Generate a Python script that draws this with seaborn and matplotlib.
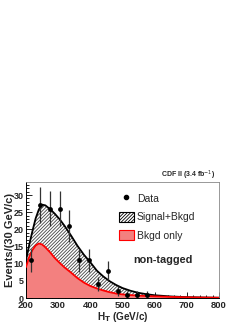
import numpy as np
import pandas as pd
import matplotlib
matplotlib.use("Agg")
import matplotlib.pyplot as plt
import seaborn as sns
from matplotlib.lines import Line2D
from matplotlib.patches import Patch
from matplotlib.ticker import MultipleLocator

# ---------------- data ----------------
data_ht = [215, 245, 275, 305, 335, 365, 395, 425, 455, 485, 515, 545, 575]
data_events = [11, 27, 26, 26, 21, 11, 11, 4, 8, 2, 1, 1, 1]
data_err = [3.3, 5.2, 5.1, 5.1, 4.6, 3.3, 3.3, 2.0, 2.8, 1.4, 1.0, 1.0, 1.0]

curve_ht = [200, 210, 220, 230, 240, 250, 260, 275, 290, 305, 320, 340, 360, 380,
            400, 420, 440, 460, 480, 500, 525, 550, 575, 600, 650, 700, 750, 800]
sig_bkgd = [11.0, 15.5, 19.5, 23.2, 25.8, 27.2, 27.0, 25.9, 24.5, 22.9, 21.0, 18.2,
            15.2, 12.6, 10.4, 8.0, 6.3, 4.9, 3.8, 2.9, 2.1, 1.5, 1.1, 0.8, 0.45,
            0.25, 0.15, 0.08]
bkgd_only = [9.0, 12.0, 14.0, 15.3, 15.9, 15.6, 14.8, 13.3, 11.6, 10.2, 8.9, 7.4,
             5.8, 4.5, 3.5, 2.8, 2.2, 1.7, 1.3, 1.05, 0.85, 0.7, 0.58, 0.48, 0.32,
             0.2, 0.13, 0.08]

x_ticks = [200, 300, 400, 500, 600, 700, 800]
y_ticks = [0, 5, 10, 15, 20, 25, 30]
legend_labels = ["Data", "Signal+Bkgd", "Bkgd only"]

# ---------------- style ----------------
sns.set_style("ticks")
plt.rcParams["font.family"] = ["Liberation Sans", "DejaVu Sans"]
plt.rcParams["hatch.linewidth"] = 0.6
plt.rcParams["hatch.color"] = "#444444"

fig = plt.figure(figsize=(2.49, 3.23), dpi=100)
ax = fig.add_axes([26 / 249, 1 - 298 / 323, 193 / 249, 116 / 323])

curves = pd.DataFrame({"ht": curve_ht, "sb": sig_bkgd, "b": bkgd_only})
points = pd.DataFrame({"ht": data_ht, "n": data_events, "err": data_err})

# fills
ax.fill_between(curves["ht"], 0, curves["sb"], facecolor="white",
                edgecolor="#444444", hatch="//////////", linewidth=0, zorder=1)
ax.fill_between(curves["ht"], 0, curves["b"], facecolor="#f3807f",
                edgecolor="none", linewidth=0, zorder=2)

# curves
sns.lineplot(data=curves, x="ht", y="sb", color="black", linewidth=1.3, ax=ax,
             zorder=3, legend=False)
sns.lineplot(data=curves, x="ht", y="b", color="red", linewidth=1.3, ax=ax,
             zorder=4, legend=False)

# data points
ax.errorbar(points["ht"], points["n"], yerr=points["err"], fmt="none",
            ecolor="#333333", elinewidth=0.9, capsize=0, zorder=5)
sns.scatterplot(data=points, x="ht", y="n", color="black", s=12, edgecolor="black",
                linewidth=0, ax=ax, zorder=6, legend=False)

ax.set_xlim(200, 800)
ax.set_ylim(0, 33.8)
ax.set_xticks(x_ticks)
ax.set_yticks(y_ticks)
ax.xaxis.set_minor_locator(MultipleLocator(20))
ax.yaxis.set_minor_locator(MultipleLocator(1))
ax.tick_params(axis="both", which="both", direction="in", top=False, right=False,
               width=0.6, color="black")
ax.tick_params(axis="both", which="major", length=4)
ax.tick_params(axis="both", which="minor", length=2)
ax.tick_params(axis="x", which="major", labelsize=6.8, pad=2.5)
ax.tick_params(axis="y", which="major", labelsize=6.5, pad=1.5)
for lab in ax.get_xticklabels() + ax.get_yticklabels():
    lab.set_fontweight("bold")

for side in ["left", "bottom"]:
    ax.spines[side].set_linewidth(0.7)
    ax.spines[side].set_color("black")
for side in ["top", "right"]:
    ax.spines[side].set_visible(True)
    ax.spines[side].set_linewidth(0.6)
    ax.spines[side].set_color("#888888")

ax.set_xlabel("H$_\\mathbf{T}$ (GeV/c)", fontsize=7.2, fontweight="bold")
ax.xaxis.set_label_coords(0.5, -0.163)
ax.xaxis.label.set_verticalalignment("center")
ax.set_ylabel("Events/(30 GeV/c)", fontsize=8, fontweight="bold")
ax.yaxis.set_label_coords(-0.083, 0.5)
ax.yaxis.label.set_verticalalignment("center")

handles = [
    Line2D([0], [0], marker="o", color="none", markerfacecolor="black",
           markeredgecolor="black", markersize=3),
    Patch(facecolor="white", edgecolor="black", hatch="//////////", linewidth=0.8),
    Patch(facecolor="#f3807f", edgecolor="red", linewidth=0.8),
]
ax.legend(handles, legend_labels, loc="upper left", bbox_to_anchor=(0.46, 0.94),
          frameon=False, fontsize=7.5, handlelength=1.45, handleheight=1.15,
          handletextpad=0.25, labelspacing=0.75, borderaxespad=0)

ax.text(0.554, 0.328, "non-tagged", transform=ax.transAxes, fontsize=7.8,
        fontweight="bold", ha="left", va="center")

fig.text(215 / 249, 1 - 175 / 323, "CDF II (3.4 fb$^{-1}$)", fontsize=5,
         fontweight="bold", ha="right", va="center")

fig.savefig("out.png", dpi=100)
